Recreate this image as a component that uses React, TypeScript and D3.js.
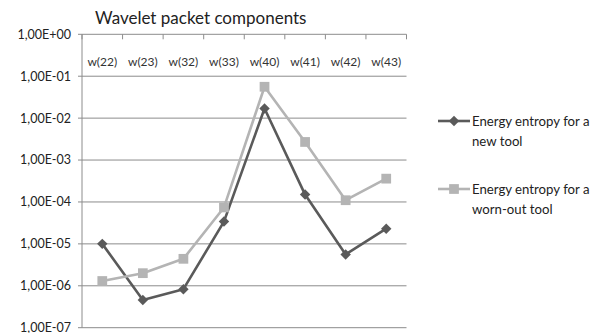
import React from 'react';
import * as d3 from 'd3';

// chart data
const components = ['w(22)', 'w(23)', 'w(32)', 'w(33)', 'w(40)', 'w(41)', 'w(42)', 'w(43)'];
const newTool = [1.0e-5, 4.6e-7, 8.3e-7, 3.4e-5, 1.7e-2, 1.5e-4, 5.6e-6, 2.3e-5];
const wornTool = [1.3e-6, 2.0e-6, 4.4e-6, 7.4e-5, 5.6e-2, 2.7e-3, 1.1e-4, 3.6e-4];
const yTicks = [1, 1e-1, 1e-2, 1e-3, 1e-4, 1e-5, 1e-6, 1e-7];
const yTickLabels = ['1,00E+00', '1,00E-01', '1,00E-02', '1,00E-03', '1,00E-04', '1,00E-05', '1,00E-06', '1,00E-07'];
const legendLines = [
  ['Energy entropy for a', 'new tool'],
  ['Energy entropy for a', 'worn-out tool'],
];

const W = 604;
const H = 333;
const font = 'Lato, "Open Sans", sans-serif';
const darkColor = '#5a5a5a';
const lightColor = '#b4b4b4';
const gridColor = '#8c8c8c';

const App = () => {
  const x = d3.scaleBand().domain(components).range([82, 406.5]);
  const y = d3.scaleLog().domain([1e-7, 1]).range([327.7, 34.3]);

  const line = d3.line<number>()
    .x((_, i) => (x(components[i]) ?? 0) + x.bandwidth() / 2)
    .y(d => y(d));

  const diamond = d3.symbol().type(d3.symbolDiamond2).size(70)() ?? '';
  const square = d3.symbol().type(d3.symbolSquare).size(95)() ?? '';

  const series = [
    { values: newTool, color: darkColor, marker: diamond, legendY: 121 },
    { values: wornTool, color: lightColor, marker: square, legendY: 189 },
  ];

  return (
    <div style={{ position: 'fixed', left: 0, top: 0 }}>
      <svg width={W} height={H} style={{ display: 'block', background: '#fff' }} fontFamily={font}>
        {/* title */}
        <text x={95} y={24} fontSize={17} fill="#222">Wavelet  packet components</text>

        {/* horizontal gridlines and y labels */}
        {yTicks.map((t, i) => (
          <g key={i}>
            <line x1={78} x2={406.5} y1={y(t)} y2={y(t)} stroke={gridColor} strokeWidth={1} />
            <text x={71} y={y(t)} dy="0.35em" textAnchor="end" fontSize={12.5} fill="#222">
              {yTickLabels[i]}
            </text>
          </g>
        ))}

        {/* left axis */}
        <line x1={82} x2={82} y1={y(1)} y2={y(1e-7)} stroke={gridColor} strokeWidth={1} />

        {/* category axis at top with tick marks */}
        {d3.range(components.length + 1).map(i => {
          const xx = 82 + i * x.bandwidth();
          return <line key={i} x1={xx} x2={xx} y1={y(1)} y2={y(1) + 5} stroke={gridColor} strokeWidth={1} />;
        })}
        {components.map(c => (
          <text key={c} x={(x(c) ?? 0) + x.bandwidth() / 2} y={66} textAnchor="middle" fontSize={12} fill="#333">
            {c}
          </text>
        ))}

        {/* series */}
        {series.map((s, si) => (
          <g key={si}>
            <path d={line(s.values) ?? ''} fill="none" stroke={s.color} strokeWidth={2.6} strokeLinejoin="round" />
            {s.values.map((v, i) => (
              <path
                key={i}
                d={s.marker}
                transform={`translate(${(x(components[i]) ?? 0) + x.bandwidth() / 2},${y(v)})`}
                fill={s.color}
              />
            ))}
          </g>
        ))}

        {/* legend */}
        {series.map((s, si) => (
          <g key={si}>
            <line x1={438} x2={470} y1={s.legendY} y2={s.legendY} stroke={s.color} strokeWidth={2.6} />
            <path d={s.marker} transform={`translate(454,${s.legendY})`} fill={s.color} />
            <text x={472} y={s.legendY} dy="0.35em" fontSize={13.2} fill="#222">{legendLines[si][0]}</text>
            <text x={472} y={s.legendY + 20} dy="0.35em" fontSize={13.2} fill="#222">{legendLines[si][1]}</text>
          </g>
        ))}
      </svg>
    </div>
  );
};

export default App;
